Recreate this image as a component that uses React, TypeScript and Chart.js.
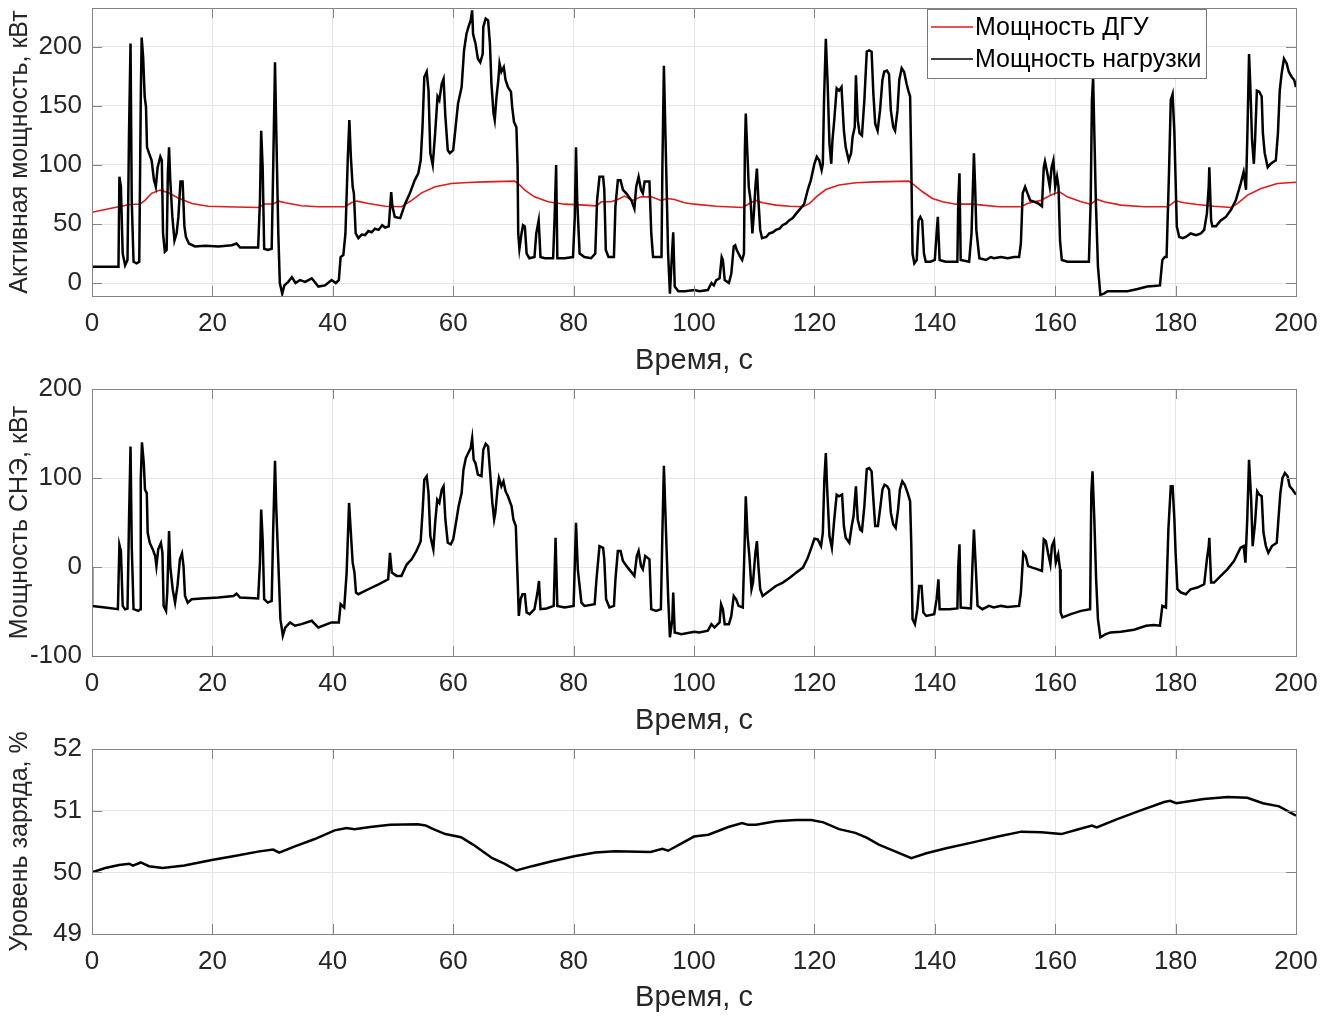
import React, { useEffect, useRef } from 'react';
import { Chart, registerables } from 'chart.js';

Chart.register(...registerables);

// ---------- axis ticks ----------
const X_TICKS = [0, 20, 40, 60, 80, 100, 120, 140, 160, 180, 200];
const P_Y_TICKS = [0, 50, 100, 150, 200];
const SNE_Y_TICKS = [-100, 0, 100, 200];
const SOC_Y_TICKS = [49, 50, 51, 52];

// ---------- load power (black, top plot) ----------
const LOAD_T = [
  0, 4.4, 4.55, 4.8, 5.1, 5.5, 5.9, 6.15, 6.4, 6.6, 6.9, 7.4, 7.85, 8.1, 8.25, 8.5, 8.75, 8.97, 9.14, 9.47,
  9.9, 10.3, 10.6, 10.9, 11.35, 11.6, 11.8, 12.1, 12.4, 12.6, 12.8, 13.0, 13.35, 13.7, 14.05, 14.35, 14.7, 15.05, 15.35, 15.6,
  16.1, 17.1, 18.8, 21.0, 23.2, 24.0, 24.6, 26.5, 27.6, 27.9, 28.1, 28.35, 28.6, 29.2, 29.85, 30.1, 30.4, 30.6, 30.95, 31.2,
  31.6, 31.95, 32.6, 33.2, 33.8, 34.55, 35.4, 36.5, 37.6, 38.7, 39.8, 40.5, 41.0, 41.3, 41.75, 42.1, 42.5, 42.75, 43.0, 43.3,
  43.5, 43.8, 44.25, 44.8, 45.35, 45.9, 46.45, 47.0, 47.6, 48.2, 48.7, 49.3, 49.7, 49.9, 50.3, 51.2, 52.0, 52.8, 53.6, 54.2,
  54.6, 54.9, 55.2, 55.6, 55.9, 56.2, 56.6, 57.0, 57.4, 57.7, 58.1, 58.4, 58.7, 59.1, 59.45, 60.0, 60.4, 60.8, 61.4, 61.8,
  62.2, 62.6, 62.9, 63.15, 63.3, 63.7, 64.1, 64.5, 64.9, 65.0, 65.4, 65.8, 66.1, 66.35, 66.7, 66.9, 67.2, 67.5, 67.7, 68.0,
  68.4, 68.7, 69.1, 69.6, 69.8, 70.1, 70.5, 70.7, 70.8, 71.0, 71.35, 71.6, 71.9, 72.2, 72.65, 73.5, 73.8, 74.2, 74.5, 75.2,
  76.6, 76.85, 77.1, 77.3, 78.5, 79.9, 80.2, 80.4, 80.6, 81.0, 81.8, 82.9, 83.6, 83.9, 84.3, 84.9, 85.1, 85.35, 85.8, 86.7,
  86.95, 87.35, 87.8, 88.2, 88.75, 89.6, 90.1, 90.4, 90.8, 91.2, 91.5, 91.8, 92.6, 92.9, 93.2, 94.6, 94.75, 95.0, 95.25, 95.7,
  96.0, 96.4, 96.55, 96.8, 97.4, 98.5, 100.1, 100.9, 102.3, 102.9, 103.3, 103.7, 104.25, 104.6, 104.8, 105.1, 105.8, 106.2, 106.6, 106.85,
  107.1, 107.4, 107.7, 108.0, 108.3, 108.45, 108.6, 108.8, 109.1, 109.4, 109.7, 109.95, 110.2, 110.45, 110.7, 111.0, 111.3, 112.0, 112.5, 113.1,
  113.6, 114.2, 114.7, 115.3, 115.8, 116.4, 117.0, 117.5, 118.3, 118.9, 119.4, 120.0, 120.4, 120.8, 121.2, 121.4, 121.6, 121.9, 122.2, 122.5,
  122.8, 123.0, 123.3, 123.7, 124.1, 124.5, 124.9, 125.2, 125.7, 126.1, 126.35, 126.7, 126.9, 127.2, 127.5, 127.9, 128.3, 128.7, 129.1, 129.5,
  129.8, 130.1, 130.5, 130.9, 131.3, 131.6, 132.05, 132.4, 132.7, 133.1, 133.4, 133.8, 134.1, 134.5, 134.9, 135.3, 135.6, 135.9, 136.1, 136.3,
  136.6, 137.0, 137.3, 137.6, 137.9, 138.2, 138.5, 139.3, 140.0, 140.3, 140.5, 140.8, 141.8, 143.75, 143.9, 144.1, 144.3, 145.7, 146.1, 146.5,
  146.7, 146.9, 147.4, 148.5, 149.3, 149.8, 151.0, 152.1, 153.2, 154.0, 154.3, 154.6, 155.0, 155.4, 155.85, 156.5, 157.3, 157.8, 158.1, 158.3,
  158.7, 159.1, 159.4, 159.7, 160.0, 160.3, 160.55, 160.8, 161.1, 162.05, 163.7, 165.6, 165.9, 166.1, 166.3, 166.5, 166.75, 167.1, 167.5, 168.1,
  168.7, 169.8, 172.0, 173.7, 175.3, 176.4, 177.4, 177.8, 178.2, 178.5, 178.9, 179.2, 179.5, 179.8, 180.0, 180.2, 180.6, 181.2, 181.7, 182.5,
  183.4, 184.2, 184.75, 185.2, 185.5, 185.6, 185.9, 186.1, 186.7, 187.5, 188.35, 189.2, 190.0, 190.8, 191.3, 191.7, 191.95, 192.2, 192.4, 192.7,
  193.0, 193.2, 193.5, 193.9, 194.3, 194.5, 194.8, 195.3, 195.8, 196.65, 197.0, 197.3, 197.6, 198.0, 198.45, 198.8, 199.3, 199.7, 200.0,
];
const LOAD_KW = [
  13.8, 13.8, 90, 81.5, 25, 15, 19.5, 127, 203, 70, 18, 16.6, 18, 155, 208, 191, 158, 149, 115, 110,
  104, 87, 81.5, 98, 107, 104, 42, 26.5, 28, 93, 115, 87, 56, 36, 42, 56, 86, 86, 48, 39,
  33.5, 31, 31.5, 31, 32, 33.5, 30, 30, 30, 70, 129, 98, 29, 28, 29, 98, 187, 132, 42, 0,
  -9, -2, 1, 5, 0, 2.5, 1, 4, -3, -2, 2.5, 0, 2.5, 22, 23.7, 42, 107, 138, 107, 81.5,
  76, 42, 38, 41, 40.6, 44, 43, 46, 45, 49, 47, 48, 77, 65, 56, 55, 67, 76, 87, 93,
  104, 132, 174.5, 179, 163, 110, 100, 127, 158, 155, 169, 173, 141, 112.5, 110, 112.5, 132, 152, 166, 197,
  211, 218, 222.5, 231, 211, 203, 190, 187, 194, 217, 224, 222.5, 203, 169, 143.5, 138, 158, 172, 186, 179,
  183, 172, 166, 162, 149, 136.5, 132, 98, 42, 29, 42, 49, 48, 25, 21, 22, 42, 53, 22, 21,
  21, 56, 100, 21, 21, 22, 56, 115, 70, 25, 22, 21, 25, 70, 90, 90, 79, 28, 22, 22,
  65, 87, 87, 79, 76, 70, 63, 81.5, 90, 79, 76, 86, 86, 42, 22, 22, 98, 184, 127, 25,
  -9, 30, 43, -3, -7, -7, -6, -7, -6, 0, -2, 2.5, 4, 22, 19.5, 2.5, 0, 8, 31, 32,
  28, 25, 22, 19.5, 25, 112.5, 143.5, 118, 81.5, 70, 42, 59, 81.5, 97, 70, 45, 38, 39, 42, 43,
  45, 46, 49, 50.5, 53, 55, 59, 62, 67, 79, 87, 101, 107, 104, 95.6, 101, 155, 207, 169, 118,
  101, 121, 138, 165, 163, 166, 129, 115, 104, 110, 124, 132, 176, 138, 127, 125, 155, 196, 197, 196,
  160, 135, 129, 146, 172, 179, 180, 177, 146, 132, 129, 146, 172, 182, 179, 169, 163, 158, 98, 25,
  16.6, 19.5, 53, 56, 53, 25, 18, 18, 19.5, 42, 56, 19.5, 18, 18, 70, 93, 19.5, 18, 42, 110,
  81.5, 45, 21, 19.5, 22, 21, 22, 21, 22, 22, 33.5, 76, 81.5, 76, 70, 69, 67, 65, 98, 103,
  93, 81.5, 98, 104, 81.5, 90, 81.5, 36, 19.5, 18, 18, 18, 70, 155, 174.5, 127, 70, 14, -10, -9,
  -7, -7, -7, -5, -3, -2.5, -2, 19.5, 22, 22, 93, 155, 160, 127, 87, 48, 39, 38, 39, 42,
  40.6, 42, 45, 59, 81.5, 98, 53, 48, 48, 53, 56, 62, 70, 84, 94, 79, 132, 194, 169, 121,
  101, 121, 163, 162, 158, 127, 110, 98, 101, 104, 127, 163, 177, 190, 186, 179, 174.5, 172, 166,
];

// ---------- diesel generator power (red, top plot) ----------
const DGU_T = [
  0, 0.02, 2.2, 4.4, 6.3, 8.0, 8.8, 9.9, 11.3, 12.7, 14.3, 16.6, 19.3, 22.1, 27.6, 28.7, 30.1, 31.0, 32.1, 34.8,
  37.6, 42.0, 43.1, 44.0, 45.9, 48.7, 51.4, 53.1, 54.75, 57.0, 59.7, 62.5, 65.2, 70.2, 70.8, 71.9, 73.5, 75.75, 78.5, 81.8,
  83.8, 84.6, 86.2, 87.35, 88.45, 89.8, 91.2, 92.9, 94.5, 95.6, 96.75, 98.4, 100.05, 103.7, 108.1, 109.2, 110.3, 111.4, 113.6, 115.9,
  118.1, 119.2, 120.3, 121.9, 124.1, 126.9, 130.2, 135.7, 136.6, 137.95, 139.6, 141.3, 143.5, 146.3, 147.9, 150.7, 154.3, 155.4, 157.6, 159.3,
  160.7, 162.0, 164.3, 165.9, 167.0, 168.1, 170.9, 174.8, 178.7, 180.0, 181.4, 183.6, 186.4, 189.2, 190.3, 191.95, 194.2, 196.9, 200,
];
const DGU_KW = [
  14, 60, 62.3, 64.6, 66.5, 67, 70, 76, 78.7, 76.4, 72, 67.4, 65, 64.6, 64, 67, 67, 69.4, 68, 65.4,
  64.6, 64.6, 68, 69.4, 67.4, 65, 64.6, 70, 76.4, 81.5, 84.3, 85.2, 85.7, 86.3, 84.3, 78.7, 73, 68.8, 66.8, 66,
  65.4, 68.8, 68.8, 70.8, 73.6, 70, 73, 73, 70, 71.6, 70.8, 68, 66.8, 65, 64, 67.4, 70, 68, 66, 65,
  64.6, 67.4, 73, 79.2, 83, 84.9, 85.7, 86.3, 83, 77.3, 71.6, 68.8, 66.8, 66.8, 66, 64.6, 64.6, 67.4, 70, 74.5,
  77.3, 73, 68.8, 66.8, 70.8, 68.8, 66, 64.6, 64.6, 69.7, 68, 66.5, 65, 64, 67.4, 74.5, 80, 84.3, 85.4,
];

// ---------- storage power (middle plot) ----------
const SNE_T = [
  0, 0.02, 2.2, 4.3, 4.55, 4.8, 5.1, 5.5, 5.9, 6.15, 6.4, 6.6, 6.9, 7.7, 8.0, 8.1, 8.3, 8.6, 8.8, 9.1,
  9.25, 9.6, 10.1, 10.5, 10.7, 11.0, 11.45, 11.7, 11.9, 12.3, 12.5, 12.8, 13.0, 13.4, 13.8, 14.2, 14.6, 14.95, 15.2, 15.45,
  15.9, 16.55, 18.2, 21.0, 23.5, 24.0, 24.6, 27.6, 27.9, 28.1, 28.35, 28.6, 29.2, 29.85, 30.1, 30.4, 30.6, 30.95, 31.3, 31.7,
  32.1, 32.9, 33.7, 34.8, 36.5, 37.6, 39.8, 41.0, 41.3, 41.9, 42.3, 42.7, 43.0, 43.3, 43.6, 43.85, 44.25, 45.9, 47.6, 49.2,
  49.5, 49.8, 50.6, 51.4, 52.3, 53.1, 53.9, 54.6, 54.9, 55.2, 55.6, 55.9, 56.2, 56.7, 57.0, 57.35, 57.7, 58.1, 58.4, 58.7,
  59.1, 59.6, 60.0, 60.55, 60.9, 61.4, 61.7, 62.1, 62.5, 62.9, 63.15, 63.4, 63.7, 64.1, 64.7, 65.0, 65.4, 65.8, 66.1, 66.5,
  66.8, 67.0, 67.35, 67.6, 68.0, 68.35, 68.7, 69.1, 69.7, 70.0, 70.4, 70.7, 70.9, 71.2, 71.5, 71.9, 72.2, 72.7, 73.5, 74.0,
  74.25, 74.5, 75.5, 76.7, 77.0, 77.3, 78.5, 80.0, 80.4, 80.7, 81.3, 81.8, 83.5, 83.8, 84.3, 84.9, 85.1, 85.4, 85.95, 86.7,
  86.95, 87.35, 87.8, 88.2, 89.0, 90.1, 90.5, 90.8, 91.2, 91.5, 91.9, 92.6, 92.9, 93.7, 94.5, 94.75, 95.0, 95.25, 95.7, 96.0,
  96.4, 96.55, 96.8, 97.9, 100.05, 100.9, 102.3, 102.9, 103.4, 104.25, 104.5, 104.8, 105.1, 105.8, 106.2, 106.6, 107.0, 107.4, 108.1, 108.4,
  108.6, 108.9, 109.2, 109.55, 109.8, 110.2, 110.45, 110.7, 111.0, 111.4, 112.5, 113.6, 114.75, 115.9, 117.0, 118.1, 118.9, 119.4, 120.0, 120.55,
  121.1, 121.4, 121.65, 121.9, 122.1, 122.5, 122.9, 123.3, 123.7, 124.1, 124.6, 124.9, 125.2, 125.8, 126.2, 126.5, 126.9, 127.2, 127.6, 127.9,
  128.3, 128.7, 129.1, 129.5, 129.8, 130.1, 130.55, 130.9, 131.3, 131.65, 132.1, 132.4, 132.7, 133.1, 133.5, 133.9, 134.2, 134.6, 135.0, 135.5,
  135.9, 136.1, 136.3, 136.7, 137.1, 137.4, 137.8, 138.1, 138.6, 139.9, 140.3, 140.6, 140.8, 142.4, 143.75, 143.9, 144.1, 144.3, 146.0, 146.25,
  146.5, 146.8, 147.1, 147.9, 149.0, 149.8, 151.0, 152.1, 154.0, 154.3, 154.7, 155.1, 155.5, 156.2, 157.1, 157.8, 158.1, 158.45, 158.8, 159.2,
  159.45, 159.8, 160.1, 160.5, 160.8, 160.9, 161.2, 162.6, 164.3, 165.8, 166.0, 166.2, 166.5, 166.8, 167.1, 167.5, 168.4, 169.2, 170.9, 173.1,
  175.1, 176.4, 177.4, 177.8, 178.4, 178.8, 179.2, 179.5, 179.8, 180.0, 180.3, 180.9, 181.7, 182.5, 183.6, 184.75, 185.2, 185.5, 185.6, 185.9,
  186.4, 187.5, 188.6, 189.7, 190.8, 191.3, 191.6, 191.9, 192.2, 192.55, 192.8, 193.2, 193.55, 193.9, 194.3, 194.6, 195.0, 195.4, 196.0, 196.8,
  197.0, 197.4, 197.75, 198.15, 198.6, 198.95, 199.4, 200.0,
];
const SNE_KW = [
  0, -43.7, -45.5, -47.4, 25, 18, -43.7, -47.4, -46.6, 53, 135.4, 23.5, -47.4, -49.3, -47.4, 98, 140, 116.8, 87, 83,
  38.4, 27, 19.8, 12.3, 1, 19.8, 27, 16, -43.7, -49.3, -28.7, 40.3, 1, -25, -40, -21.3, 8.6, 15.3, 1, -32.5,
  -40, -36.2, -35.4, -34.3, -32.5, -30, -34.3, -35.4, 4.9, 64.5, 31, -36.2, -40, -38, 42, 119.4, 68.3, 4.9, -58.6, -77.2,
  -68, -62.3, -66, -64.2, -60.4, -68, -62.3, -62.3, -41.8, -45.5, -6.3, 72, 38.4, 4.9, -6.3, -28.7, -30.6, -25, -19.4, -13.8,
  16, -6.3, -10, -10, 3, 8.6, 18, 29, 60.8, 98, 102, 83, 34.7, 19.8, 49.6, 75.7, 72, 87, 90.7, 53.4,
  27.2, 25.4, 31, 53.4, 68.3, 83, 109, 122.4, 128, 133.6, 144.8, 120.5, 116.8, 103.7, 102, 131.7, 138.4, 135.4, 109, 72,
  53.4, 60.8, 87, 100, 90.7, 96.3, 85, 79.5, 68.3, 53.4, 46, -13.8, -55, -36.2, -30.6, -30.6, -51.1, -53, -47.4, -28.7,
  -15.7, -47.4, -46.6, -43.7, 32.8, -43.7, -45.5, -43.7, 49.6, -2.6, -40, -43.7, -41.8, -13.8, 23.5, 21.6, 8.6, -36.2, -45.5, -43.7,
  -13.8, 18, 18, 6.7, -0.7, -10, 12.3, 18, 1, -2.6, 12.3, 8.6, -47.4, -49.3, -47.4, 38.4, 113.8, 60.8, -32.5, -79,
  -58.6, -28.7, -73.5, -75.4, -72.8, -73.5, -71.6, -64.2, -68, -62.3, -41.8, -47.4, -64.2, -64.2, -55, -32.5, -36.2, -43.7, -45.5, 23.5,
  79.5, 34.7, 12.3, -25, -17.5, 16, 29, 1, -25, -32.5, -26.9, -21.3, -17.5, -12, -6.3, -0.7, 10.4, 19.8, 31.7, 31,
  23.5, 38.4, 98, 128, 90.7, 34.7, 21.6, 53.4, 81.3, 79.5, 81.3, 46, 32.8, 27.2, 46, 57, 90.7, 53.4, 42, 40.3,
  68.3, 110, 111.2, 107.5, 75.7, 46, 46, 64.5, 87, 92.5, 90.7, 87, 60.8, 47.8, 44, 64.5, 87, 96.3, 92.5, 83,
  73.9, 23.5, -58.6, -64.2, -47.4, -21.3, -21.3, -51.1, -55, -53, -36.2, -13.8, -47.4, -47.4, -46.6, 1, 25.4, -45.5, -46.6, 1,
  42, 1, -43.7, -47.4, -43.7, -45.5, -43.7, -44.8, -43.7, -28.7, 16, 12.3, 1, -0.7, -2.6, -4.5, 31, 29, 16, 3,
  23.5, 29, 4.9, 14.2, -2.6, -51.1, -56.7, -53, -49.3, -47.4, 83, 107.5, 53.4, -13.8, -58.6, -79, -75.4, -73.5, -72.8, -70.5,
  -66, -65.3, -66, -43.7, -45.5, 42, 90.7, 90.7, 53.4, 16, -25, -28.7, -30.6, -25, -23.1, -19.4, 8.6, 23.5, 32.8, -17.5,
  -17.5, -10, -2.6, 6.7, 21.6, 23.5, 4.9, 53.4, 120.5, 75.7, 23.5, 49.6, 85, 81.3, 79.5, 38.4, 23.5, 16, 23.5, 27.2,
  46, 83, 100, 105.6, 102, 90.7, 87, 81.3,
];

// ---------- state of charge (bottom plot) ----------
const SOC_T = [
  0, 2.2, 4.5, 6.2, 6.8, 8.1, 9.45, 11.75, 15.35, 19.9, 23.9, 27.8, 30.1, 31.1, 33.7, 37.0, 40.3, 42.3, 43.6, 46.2,
  49.5, 54.1, 55.4, 56.7, 58.7, 61.3, 63.3, 66.5, 68.5, 70.5, 73.1, 76.4, 80.1, 83.6, 86.9, 92.8, 94.75, 95.7, 100.0, 102.4,
  105.7, 108.0, 109.0, 110.3, 113.6, 116.9, 119.5, 121.5, 124.1, 126.8, 128.75, 130.7, 133.4, 136.1, 138.6, 141.9, 146.5, 150.5, 154.4, 157.7,
  161.0, 163.6, 166.1, 166.9, 170.2, 174.1, 178.1, 179.1, 180.1, 184.7, 188.65, 191.9, 194.5, 197.2, 200,
];
const SOC_PCT = [
  50.0, 50.07, 50.12, 50.14, 50.11, 50.16, 50.1, 50.07, 50.11, 50.2, 50.27, 50.34, 50.37, 50.32, 50.42, 50.54, 50.68, 50.72, 50.7, 50.735,
  50.77, 50.78, 50.76, 50.7, 50.62, 50.57, 50.45, 50.23, 50.14, 50.03, 50.1, 50.18, 50.26, 50.32, 50.34, 50.33, 50.38, 50.35, 50.58, 50.61,
  50.735, 50.8, 50.77, 50.77, 50.83, 50.85, 50.85, 50.81, 50.7, 50.64, 50.56, 50.45, 50.34, 50.23, 50.31, 50.39, 50.49, 50.58, 50.66, 50.65,
  50.62, 50.69, 50.76, 50.73, 50.86, 51.0, 51.14, 51.16, 51.12, 51.19, 51.22, 51.21, 51.12, 51.07, 50.92,
];

const LABEL_DGU = 'Мощность ДГУ';
const LABEL_LOAD = 'Мощность нагрузки';
const X_TITLE = 'Время, с';

// ---------- styling ----------
const FONT = '"Liberation Sans", Arial, Helvetica, sans-serif';
const TEXT = '#262626';
const AXIS = '#858585';
const GRID = '#e6e6e6';
const RED = '#e01b1b';
const BLACK = '#000000';

const pairs = (t: number[], v: number[]) => t.map((x, i) => ({ x, y: v[i] }));

const boxPlugin = {
  id: 'matlabBox',
  afterDraw(chart: any) {
    const { ctx, chartArea, scales } = chart;
    const { left, right, top, bottom } = chartArea;
    const tl = 10;
    ctx.save();
    ctx.strokeStyle = AXIS;
    ctx.lineWidth = 1;
    ctx.beginPath();
    scales.x.ticks.forEach((t: any) => {
      const px = Math.round(scales.x.getPixelForValue(t.value)) + 0.5;
      ctx.moveTo(px, bottom);
      ctx.lineTo(px, bottom - tl);
      ctx.moveTo(px, top);
      ctx.lineTo(px, top + tl);
    });
    scales.y.ticks.forEach((t: any) => {
      const py = Math.round(scales.y.getPixelForValue(t.value)) + 0.5;
      ctx.moveTo(left, py);
      ctx.lineTo(left + tl, py);
      ctx.moveTo(right, py);
      ctx.lineTo(right - tl, py);
    });
    ctx.stroke();
    ctx.strokeRect(Math.round(left) + 0.5, Math.round(top) + 0.5, Math.round(right - left), Math.round(bottom - top));
    ctx.restore();
  },
};

const legendPlugin = {
  id: 'boxLegend',
  afterDraw(chart: any, _args: any, opts: any) {
    if (!opts || !opts.display) return;
    const { ctx, chartArea } = chart;
    const x0 = chartArea.right - opts.rightInset - opts.width;
    const y0 = chartArea.top + opts.topInset;
    ctx.save();
    ctx.fillStyle = '#ffffff';
    ctx.fillRect(x0, y0, opts.width, opts.height);
    ctx.strokeStyle = '#7a7a7a';
    ctx.lineWidth = 1;
    ctx.strokeRect(Math.round(x0) + 0.5, Math.round(y0) + 0.5, opts.width, opts.height);
    ctx.font = `${opts.fontSize}px ${FONT}`;
    ctx.textBaseline = 'middle';
    ctx.textAlign = 'left';
    opts.items.forEach((it: any, i: number) => {
      const y = y0 + opts.firstRow + i * opts.rowGap;
      ctx.strokeStyle = it.color;
      ctx.lineWidth = it.width;
      ctx.beginPath();
      ctx.moveTo(x0 + 4, y);
      ctx.lineTo(x0 + 46, y);
      ctx.stroke();
      ctx.fillStyle = '#000000';
      ctx.fillText(it.label, x0 + 48, y + 1);
    });
    ctx.restore();
  },
};

type Cfg = {
  datasets: any[];
  yMin: number;
  yMax: number;
  yTicks: number[];
  yTitle: string;
  padTop: number;
  xHeight: number;
  legend?: any;
};

function makeConfig(c: Cfg): any {
  return {
    type: 'line',
    data: { datasets: c.datasets },
    plugins: [boxPlugin, legendPlugin],
    options: {
      responsive: false,
      animation: false,
      devicePixelRatio: 1,
      events: [],
      layout: { padding: { left: 0, right: 42, top: c.padTop, bottom: 0 } },
      elements: { point: { radius: 0 }, line: { tension: 0 } },
      plugins: {
        legend: { display: false },
        tooltip: { enabled: false },
        boxLegend: c.legend || { display: false },
      },
      scales: {
        x: {
          type: 'linear',
          min: 0,
          max: 200,
          afterBuildTicks: (s: any) => {
            s.ticks = X_TICKS.map((v) => ({ value: v }));
          },
          afterFit: (s: any) => {
            s.height = c.xHeight;
            s.paddingLeft = 0;
            s.paddingRight = 0;
          },
          grid: { color: GRID, lineWidth: 1, drawTicks: false },
          border: { display: false },
          ticks: {
            color: TEXT,
            font: { family: FONT, size: 26 },
            padding: 12,
            maxRotation: 0,
            autoSkip: false,
            callback: (v: any) => String(v),
          },
          title: {
            display: true,
            text: X_TITLE,
            color: TEXT,
            font: { family: FONT, size: 29 },
            padding: { top: 0, bottom: 2 },
          },
        },
        y: {
          type: 'linear',
          min: c.yMin,
          max: c.yMax,
          afterBuildTicks: (s: any) => {
            s.ticks = c.yTicks.map((v) => ({ value: v }));
          },
          afterFit: (s: any) => {
            s.width = 92;
            s.paddingTop = 0;
            s.paddingBottom = 0;
          },
          grid: { color: GRID, lineWidth: 1, drawTicks: false },
          border: { display: false },
          ticks: {
            color: TEXT,
            font: { family: FONT, size: 26 },
            padding: 10,
            autoSkip: false,
            callback: (v: any) => String(v),
          },
          title: {
            display: true,
            text: c.yTitle,
            color: TEXT,
            font: { family: FONT, size: 25 },
            padding: { top: 5, bottom: 0 },
          },
        },
      },
    },
  };
}

function ChartCanvas({ top, height, config }: { top: number; height: number; config: () => any }) {
  const ref = useRef<HTMLCanvasElement | null>(null);
  useEffect(() => {
    if (!ref.current) return;
    const chart = new Chart(ref.current, config());
    return () => chart.destroy();
  }, []);
  return (
    <canvas
      ref={ref}
      width={1338}
      height={height}
      style={{ position: 'absolute', left: 0, top, width: 1338, height, display: 'block' }}
    />
  );
}

export default function App() {
  const cfg1 = () =>
    makeConfig({
      datasets: [
        { label: LABEL_LOAD, data: pairs(LOAD_T, LOAD_KW), borderColor: BLACK, borderWidth: 2.5 },
        { label: LABEL_DGU, data: pairs(DGU_T, DGU_KW), borderColor: RED, borderWidth: 1.6 },
      ],
      yMin: -11,
      yMax: 233,
      yTicks: P_Y_TICKS,
      yTitle: 'Активная мощность, кВт',
      padTop: 8,
      xHeight: 84,
      legend: {
        display: true,
        rightInset: 90,
        topInset: 1,
        width: 279,
        height: 69,
        firstRow: 18,
        rowGap: 32,
        fontSize: 25,
        items: [
          { label: LABEL_DGU, color: RED, width: 1.6 },
          { label: LABEL_LOAD, color: BLACK, width: 1.6 },
        ],
      },
    });
  const cfg2 = () =>
    makeConfig({
      datasets: [{ label: 'СНЭ', data: pairs(SNE_T, SNE_KW), borderColor: BLACK, borderWidth: 2.5 }],
      yMin: -100,
      yMax: 200,
      yTicks: SNE_Y_TICKS,
      yTitle: 'Мощность СНЭ, кВт',
      padTop: 29,
      xHeight: 84,
    });
  const cfg3 = () =>
    makeConfig({
      datasets: [{ label: 'SOC', data: pairs(SOC_T, SOC_PCT), borderColor: BLACK, borderWidth: 2.5 }],
      yMin: 49,
      yMax: 52,
      yTicks: SOC_Y_TICKS,
      yTitle: 'Уровень заряда, %',
      padTop: 19,
      xHeight: 83,
    });
  return (
    <div style={{ position: 'absolute', left: 0, top: 0, width: 1338, height: 1017, background: '#ffffff', overflow: 'hidden' }}>
      <ChartCanvas top={0} height={380} config={cfg1} />
      <ChartCanvas top={360} height={380} config={cfg2} />
      <ChartCanvas top={730} height={287} config={cfg3} />
    </div>
  );
}
